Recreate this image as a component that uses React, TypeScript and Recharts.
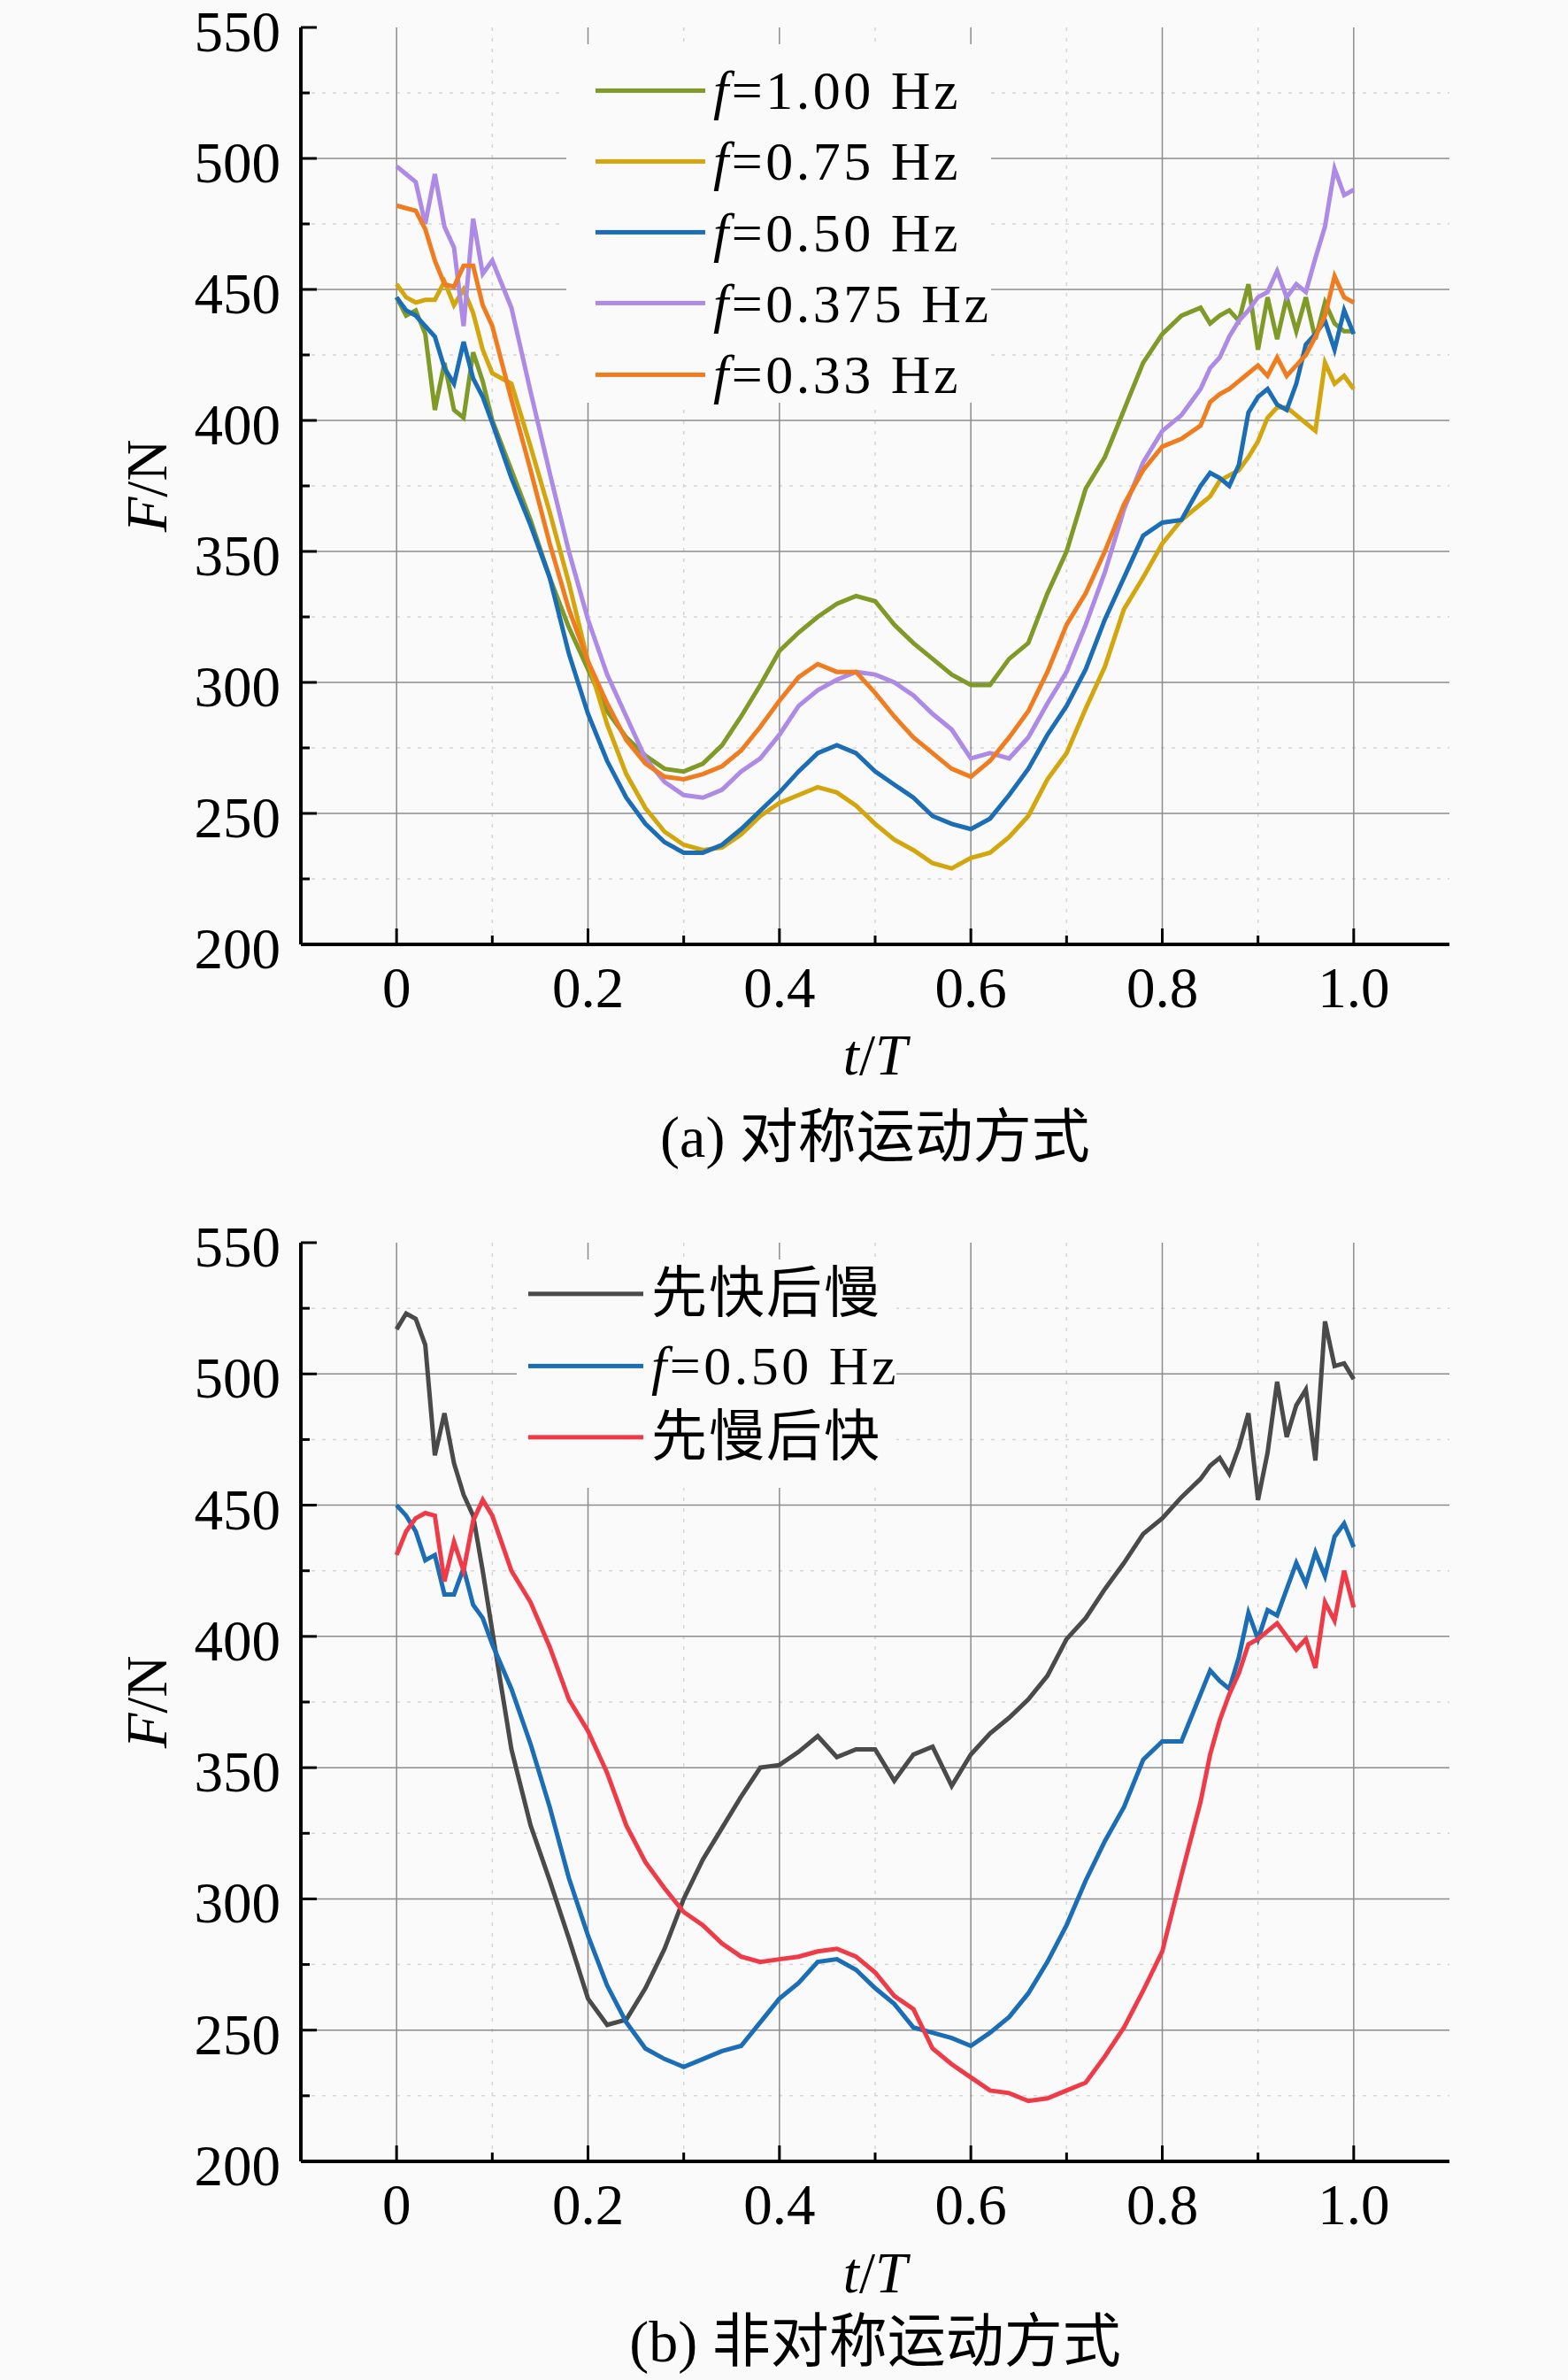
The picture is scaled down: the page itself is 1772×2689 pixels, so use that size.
import React from "react";
import { LineChart, Line, XAxis, YAxis, CartesianGrid, Legend, Label } from "recharts";

// t/T sample points shared by every curve (finer where the signals are noisy)
const tGrid = [
  0, 0.01, 0.02, 0.03, 0.04, 0.05, 0.06, 0.07, 0.08, 0.09, 0.1,
  0.12, 0.14, 0.16, 0.18, 0.2, 0.22, 0.24, 0.26, 0.28, 0.3, 0.32, 0.34, 0.36, 0.38, 0.4, 0.42,
  0.44, 0.46, 0.48, 0.5, 0.52, 0.54, 0.56, 0.58, 0.6, 0.62, 0.64, 0.66, 0.68, 0.7, 0.72, 0.74,
  0.76, 0.78, 0.8, 0.82,
  0.84, 0.85, 0.86, 0.87, 0.88, 0.89, 0.9, 0.91, 0.92, 0.93, 0.94, 0.95, 0.96, 0.97, 0.98, 0.99, 1.0,
];

// (a) symmetric motion, F in N
const f100 = [
  447, 440, 442, 433, 404, 422, 404, 401, 426, 415, 400,
  381, 362, 340, 321, 305, 289, 279, 272, 267, 266, 269, 276, 287, 299, 312, 319, 325, 330, 333, 331,
  322, 315, 309, 303, 299, 299, 309, 315, 334, 350, 374, 386, 404, 422, 433, 440,
  443, 437, 440, 442, 438, 452, 427, 447, 431, 447, 434, 447, 431, 445, 437, 434, 434,
];
const f075 = [
  452, 447, 445, 446, 446, 453, 444, 450, 441, 427, 418,
  414, 390, 365, 338, 308, 284, 265, 252, 243, 238, 236, 237, 242, 249, 254, 257, 260, 258, 253, 246,
  240, 236, 231, 229, 233, 235, 241, 249, 263, 273, 290, 306, 328, 340, 353, 362,
  368, 371, 377, 379, 381, 386, 392, 401, 405, 405, 402, 399, 396, 422, 414, 417, 412,
];
const f050 = [
  447, 442, 440, 436, 432, 420, 414, 430, 416, 409, 399,
  378, 360, 340, 311, 288, 270, 256, 246, 239, 235, 235, 238, 244, 251, 258, 266, 273, 276, 273, 266,
  261, 256, 249, 246, 244, 248, 257, 267, 280, 291, 305, 324, 340, 356, 361, 362,
  375, 380, 378, 375, 383, 403, 409, 412, 406, 404, 414, 429, 433, 438, 427, 442, 433,
];
const f0375 = [
  497, 494, 491, 475, 494, 474, 466, 436, 477, 456, 461,
  443, 411, 380, 350, 324, 303, 287, 271, 262, 257, 256, 259, 266, 271, 280, 291, 297, 301, 304, 303,
  300, 295, 288, 282, 271, 273, 271, 279, 292, 304, 322, 342, 366, 384, 396, 402,
  412, 420, 424, 432, 438, 442, 447, 449, 457, 447, 452, 449, 462, 474, 496, 486, 488,
];
const f033 = [
  482, 481, 480, 473, 461, 452, 451, 459, 459, 444, 436,
  408, 381, 353, 328, 308, 292, 278, 269, 264, 263, 265, 268, 274, 283, 293, 302, 307, 304, 304, 296,
  287, 279, 273, 267, 264, 270, 279, 289, 304, 322, 334, 350, 368, 381, 390, 393,
  398, 407, 410, 412, 415, 418, 421, 417, 424, 417, 421, 425, 432, 440, 455, 447, 445,
];

// (b) asymmetric motion
const fastSlow = [
  517, 523, 521, 511, 469, 485, 466, 454, 446, 425, 402,
  357, 328, 307, 285, 262, 252, 254, 266, 281, 300, 315, 327, 339, 350, 351, 356, 362, 354, 357, 357,
  345, 355, 358, 343, 355, 363, 369, 376, 385, 399, 407, 418, 428, 439, 445, 453,
  460, 465, 468, 462, 472, 485, 452, 470, 497, 476, 488, 494, 467, 520, 503, 504, 498,
];
const halfHz = [
  450, 446, 440, 429, 431, 416, 416, 426, 412, 407, 397,
  380, 359, 335, 308, 286, 267, 253, 243, 239, 236, 239, 242, 244, 253, 262, 268, 276, 277, 273, 266,
  260, 251, 249, 247, 244, 249, 255, 264, 276, 290, 307, 322, 335, 353, 360, 360,
  378, 387, 383, 380, 392, 409, 399, 410, 408, 418, 428, 420, 432, 423, 438, 443, 434,
];
const slowFast = [
  431, 440, 445, 447, 446, 421, 436, 425, 444, 452, 446,
  425, 413, 396, 376, 364, 348, 328, 314, 304, 295, 290, 283, 278, 276, 277, 278, 280, 281, 278, 272,
  263, 258, 243, 237, 232, 227, 226, 223, 224, 227, 230, 240, 251, 265, 280, 309,
  337, 355, 368, 378, 386, 397, 399, 402, 405, 400, 395, 399, 388, 413, 406, 425, 411,
];

const xTicks = [0, 0.1, 0.2, 0.3, 0.4, 0.5, 0.6, 0.7, 0.8, 0.9, 1.0];
const xGridMajor = [0, 0.2, 0.4, 0.6, 0.8, 1.0];
const xGridMinor = [0.1, 0.3, 0.5, 0.7, 0.9];
const yTicks = [200, 225, 250, 275, 300, 325, 350, 375, 400, 425, 450, 475, 500, 525, 550];
const yGridMajor = [250, 300, 350, 400, 450, 500];
const yGridMinor = [225, 275, 325, 375, 425, 475, 525];

const BG = "#fafafa";
const SERIF = "'Liberation Serif', 'Times New Roman', 'Noto Sans CJK SC', serif";
const CJK = "'Liberation Serif', 'Noto Sans CJK SC', serif";
const FS = 65;

const dataA = tGrid.map((t, i) => ({ t, f100: f100[i], f075: f075[i], f050: f050[i], f0375: f0375[i], f033: f033[i] }));
const dataB = tGrid.map((t, i) => ({ t, fastSlow: fastSlow[i], halfHz: halfHz[i], slowFast: slowFast[i] }));

const seriesA = [
  { key: "f100", name: "f=1.00 Hz", color: "#7f9a27" },
  { key: "f075", name: "f=0.75 Hz", color: "#d2a60c" },
  { key: "f050", name: "f=0.50 Hz", color: "#1b6db5" },
  { key: "f0375", name: "f=0.375 Hz", color: "#ac8ae6" },
  { key: "f033", name: "f=0.33 Hz", color: "#f07c20" },
];
const seriesB = [
  { key: "fastSlow", name: "先快后慢", color: "#4a4a4a" },
  { key: "halfHz", name: "f=0.50 Hz", color: "#1b6db5" },
  { key: "slowFast", name: "先慢后快", color: "#ef3b48" },
];

const isMajorT = (v: number) => Math.round(v * 10) % 2 === 0;
const fmtT = (v: number) => (v === 0 ? "0" : v.toFixed(1));

const BottomTick = ({ x, y, payload }: any) => {
  const major = isMajorT(payload.value);
  return (
    <g>
      <line x1={x} x2={x} y1={y} y2={y - (major ? 18 : 10)} stroke="#000" strokeWidth={3} />
      {major && (
        <text x={x} y={y + 71} textAnchor="middle" fontSize={FS} fontFamily={SERIF} fill="#000">
          {fmtT(payload.value)}
        </text>
      )}
    </g>
  );
};

const TopTick = ({ x, y, payload }: any) => (
  <line x1={x} x2={x} y1={y} y2={y + (isMajorT(payload.value) ? 18 : 10)} stroke="#000" strokeWidth={3} />
);

const LeftTick = ({ x, y, payload }: any) => {
  const major = payload.value % 50 === 0;
  return (
    <g>
      <line x1={x} x2={x + (major ? 18 : 10)} y1={y} y2={y} stroke="#000" strokeWidth={3} />
      {major && (
        <text x={x - 23} y={y + 27} textAnchor="end" fontSize={FS} fontFamily={SERIF} fill="#000">
          {payload.value}
        </text>
      )}
    </g>
  );
};

const RightTick = ({ x, y, payload }: any) => (
  <line x1={x} x2={x - (payload.value % 50 === 0 ? 18 : 10)} y1={y} y2={y} stroke="#000" strokeWidth={3} />
);

const xTitle = (caption: string, titleDy: number, captionDy: number) => (props: any) => {
  const vb = props.viewBox;
  const cx = vb.x + vb.width / 2;
  return (
    <g>
      <text x={cx} y={vb.y + titleDy} textAnchor="middle" fontSize={FS} fontFamily={SERIF} fill="#000">
        <tspan fontStyle="italic">t</tspan>
        <tspan>/</tspan>
        <tspan fontStyle="italic">T</tspan>
      </text>
      <text x={cx} y={vb.y + captionDy} textAnchor="middle" fontSize={66} fontFamily={CJK} fill="#000">
        {caption}
      </text>
    </g>
  );
};

const YTitle = (props: any) => {
  const vb = props.viewBox;
  const cx = vb.x + vb.width - 174;
  const cy = vb.y + vb.height / 2;
  return (
    <text x={cx} y={cy} transform={`rotate(-90 ${cx} ${cy})`} textAnchor="middle" dominantBaseline="central" fontSize={FS} fontFamily={SERIF} fill="#000">
      <tspan fontStyle="italic">F</tspan>
      <tspan>/N</tspan>
    </text>
  );
};

const LegendName = ({ name }: { name: string }) =>
  name.startsWith("f=") ? (
    <span style={{ fontFamily: SERIF, fontSize: 62, letterSpacing: 3.5 }}>
      <i>f</i>
      {name.slice(1)}
    </span>
  ) : (
    <span style={{ fontFamily: CJK, fontSize: 63, letterSpacing: 2 }}>{name}</span>
  );

const makeLegend = (order: string[], lineX: number, lineLen: number, rowTop: number, rowStep: number) => (props: any) => {
  const items = [...(props.payload || [])].sort(
    (a: any, b: any) => order.indexOf(a.dataKey) - order.indexOf(b.dataKey)
  );
  return (
    <div style={{ position: "relative", width: "100%", height: "100%", background: BG }}>
      {items.map((entry: any, i: number) => (
        <div
          key={entry.dataKey}
          style={{
            position: "absolute",
            left: lineX,
            top: rowTop + i * rowStep,
            transform: "translateY(-50%)",
            display: "flex",
            alignItems: "center",
            whiteSpace: "nowrap",
            lineHeight: 1.1,
          }}
        >
          <span style={{ display: "inline-block", width: lineLen, height: 5, background: entry.color, marginRight: 9 }} />
          <LegendName name={entry.value} />
        </div>
      ))}
    </div>
  );
};

type PanelProps = {
  data: any[];
  series: { key: string; name: string; color: string }[];
  height: number;
  marginTop: number;
  axisHeight: number;
  caption: string;
  titleDy: number;
  captionDy: number;
  legendBox: { left: number; top: number; width: number; height: number };
  legendRows: [number, number, number, number];
};

function Panel(p: PanelProps) {
  const order = p.series.map((s) => s.key);
  return (
    <LineChart width={1772} height={p.height} data={p.data} margin={{ top: p.marginTop, right: 134, bottom: 0, left: 0 }}>
      <CartesianGrid verticalValues={xGridMinor} horizontalValues={yGridMinor} stroke="#d6d6d6" strokeDasharray="4 8" strokeWidth={1.5} />
      <CartesianGrid verticalValues={xGridMajor} horizontalValues={yGridMajor} stroke="#8c8c8c" strokeWidth={1.5} />
      <XAxis
        dataKey="t"
        type="number"
        domain={[-0.1, 1.1]}
        ticks={xTicks}
        interval={0}
        height={p.axisHeight}
        tickLine={false}
        tickSize={0}
        tickMargin={0}
        tick={BottomTick}
        axisLine={{ stroke: "#000", strokeWidth: 4 }}
      >
        <Label content={xTitle(p.caption, p.titleDy, p.captionDy)} />
      </XAxis>
      <XAxis
        xAxisId="top"
        dataKey="t"
        orientation="top"
        type="number"
        domain={[-0.1, 1.1]}
        ticks={xTicks}
        interval={0}
        height={0}
        tickLine={false}
        tickSize={0}
        tickMargin={0}
        tick={TopTick}
        axisLine={{ stroke: "#000", strokeWidth: 4 }}
      />
      <YAxis
        type="number"
        domain={[200, 550]}
        ticks={yTicks}
        interval={0}
        width={340}
        tickLine={false}
        tickSize={0}
        tickMargin={0}
        tick={LeftTick}
        axisLine={{ stroke: "#000", strokeWidth: 4 }}
      >
        <Label content={YTitle} />
      </YAxis>
      <YAxis
        yAxisId="right"
        orientation="right"
        type="number"
        domain={[200, 550]}
        ticks={yTicks}
        interval={0}
        width={0}
        tickLine={false}
        tickSize={0}
        tickMargin={0}
        tick={RightTick}
        axisLine={{ stroke: "#000", strokeWidth: 4 }}
      />
      <Legend
        layout="vertical"
        align="center"
        verticalAlign="middle"
        content={makeLegend(order, ...p.legendRows)}
        wrapperStyle={{ ...p.legendBox }}
      />
      {p.series.map((s) => (
        <Line
          key={s.key}
          type="linear"
          dataKey={s.key}
          name={s.name}
          stroke={s.color}
          strokeWidth={5}
          dot={false}
          activeDot={false}
          isAnimationActive={false}
        />
      ))}
    </LineChart>
  );
}

export default function App() {
  return (
    <div style={{ position: "absolute", left: 0, top: 0, width: 1772, height: 2689, background: BG }}>
      <Panel
        data={dataA}
        series={seriesA}
        height={1345}
        marginTop={31}
        axisHeight={278}
        caption="(a) 对称运动方式"
        titleDy={147}
        captionDy={240}
        legendBox={{ left: 640, top: 50, width: 480, height: 405 }}
        legendRows={[33, 124, 52, 80.3]}
      />
      <Panel
        data={dataB}
        series={seriesB}
        height={1344}
        marginTop={59}
        axisHeight={247}
        caption="(b) 非对称运动方式"
        titleDy={148}
        captionDy={226}
        legendBox={{ left: 584, top: 78, width: 429, height: 258 }}
        legendRows={[13, 130, 39, 81]}
      />
    </div>
  );
}
